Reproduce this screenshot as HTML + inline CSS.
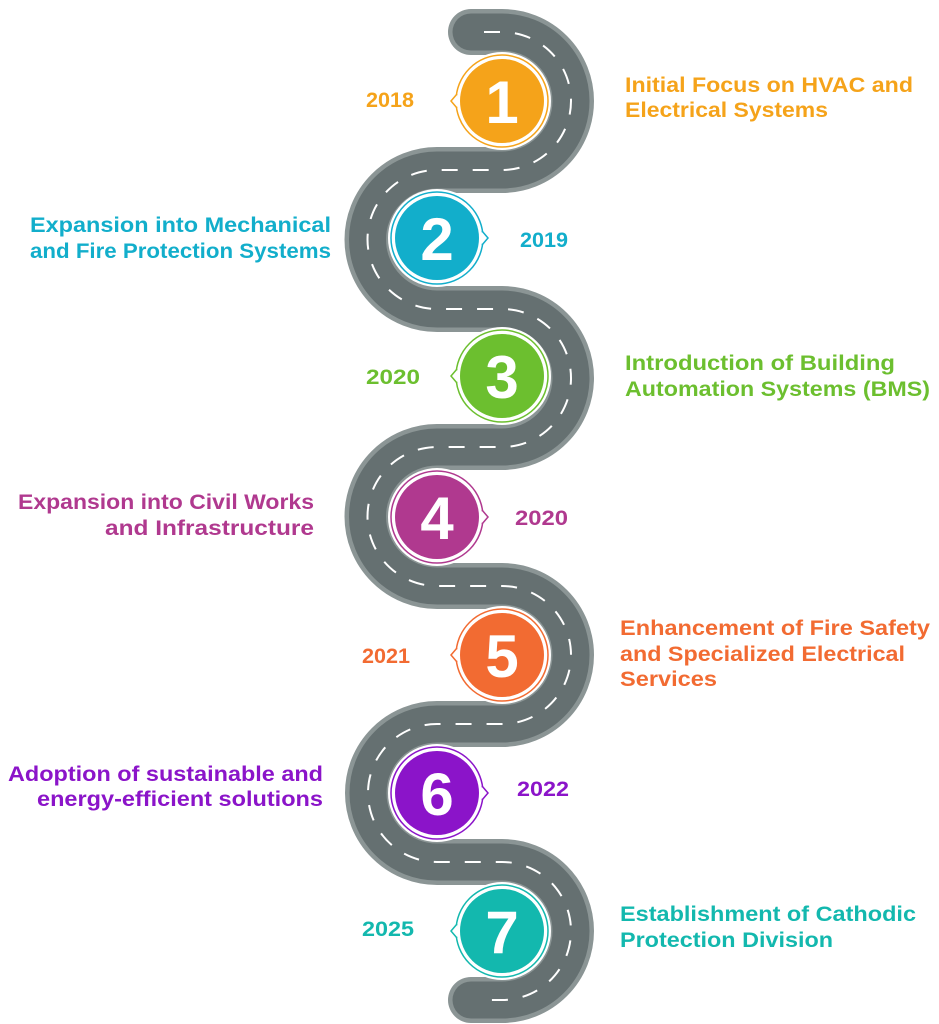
<!DOCTYPE html>
<html><head><meta charset="utf-8"><style>
html,body{margin:0;padding:0;background:#fff;}
svg{display:block;}
text{font-family:"Liberation Sans",sans-serif;font-weight:bold;font-size:21px;}
.num{font-size:60px;fill:#fff;text-anchor:middle;}
</style></head><body>
<svg width="939" height="1024" viewBox="0 0 939 1024">
<g fill="none" stroke-linecap="round">
<path d="M471 32 H502 A69 69 0 0 1 502 170 H437 A69 69 0 0 0 437 309 H502 A69 69 0 0 1 502 447 H437 A69 69 0 0 0 437 586 H502 A69 69 0 0 1 502 724 H437 A69 69 0 0 0 437 862 H502 A69 69 0 0 1 502 1000 H471" stroke="#8b9595" stroke-width="46"/>
<path d="M471 32 H502 A69 69 0 0 1 502 170 H437 A69 69 0 0 0 437 309 H502 A69 69 0 0 1 502 447 H437 A69 69 0 0 0 437 586 H502 A69 69 0 0 1 502 724 H437 A69 69 0 0 0 437 862 H502 A69 69 0 0 1 502 1000 H471" stroke="#657071" stroke-width="37"/>
<path d="M484 32 H502 A69 69 0 0 1 502 170 H437 A69 69 0 0 0 437 309 H502 A69 69 0 0 1 502 447 H437 A69 69 0 0 0 437 586 H502 A69 69 0 0 1 502 724 H437 A69 69 0 0 0 437 862 H502 A69 69 0 0 1 502 1000 H484" stroke="#fff" stroke-width="2" stroke-dasharray="16 15" stroke-linecap="butt"/>
</g>
<g>
<circle cx="502" cy="101" r="49" fill="#fff"/><circle cx="502" cy="101" r="46" fill="#fff" stroke="#f5a31a" stroke-width="1.5"/><path d="M457 94 L451 101 L457 108" fill="#fff" stroke="#f5a31a" stroke-width="1.5"/><circle cx="502" cy="101" r="42" fill="#f5a31a"/><text class="num" x="502" y="123">1</text>
<circle cx="437" cy="238" r="49" fill="#fff"/><circle cx="437" cy="238" r="46" fill="#fff" stroke="#12aecb" stroke-width="1.5"/><path d="M482 231 L488 238 L482 245" fill="#fff" stroke="#12aecb" stroke-width="1.5"/><circle cx="437" cy="238" r="42" fill="#12aecb"/><text class="num" x="437" y="260">2</text>
<circle cx="502" cy="376" r="49" fill="#fff"/><circle cx="502" cy="376" r="46" fill="#fff" stroke="#6cbf2f" stroke-width="1.5"/><path d="M457 369 L451 376 L457 383" fill="#fff" stroke="#6cbf2f" stroke-width="1.5"/><circle cx="502" cy="376" r="42" fill="#6cbf2f"/><text class="num" x="502" y="398">3</text>
<circle cx="437" cy="517" r="49" fill="#fff"/><circle cx="437" cy="517" r="46" fill="#fff" stroke="#b0398f" stroke-width="1.5"/><path d="M482 510 L488 517 L482 524" fill="#fff" stroke="#b0398f" stroke-width="1.5"/><circle cx="437" cy="517" r="42" fill="#b0398f"/><text class="num" x="437" y="539">4</text>
<circle cx="502" cy="655" r="49" fill="#fff"/><circle cx="502" cy="655" r="46" fill="#fff" stroke="#f26b32" stroke-width="1.5"/><path d="M457 648 L451 655 L457 662" fill="#fff" stroke="#f26b32" stroke-width="1.5"/><circle cx="502" cy="655" r="42" fill="#f26b32"/><text class="num" x="502" y="677">5</text>
<circle cx="437" cy="793" r="49" fill="#fff"/><circle cx="437" cy="793" r="46" fill="#fff" stroke="#8b14c9" stroke-width="1.5"/><path d="M482 786 L488 793 L482 800" fill="#fff" stroke="#8b14c9" stroke-width="1.5"/><circle cx="437" cy="793" r="42" fill="#8b14c9"/><text class="num" x="437" y="815">6</text>
<circle cx="502" cy="931" r="49" fill="#fff"/><circle cx="502" cy="931" r="46" fill="#fff" stroke="#13b8ae" stroke-width="1.5"/><path d="M457 924 L451 931 L457 938" fill="#fff" stroke="#13b8ae" stroke-width="1.5"/><circle cx="502" cy="931" r="42" fill="#13b8ae"/><text class="num" x="502" y="953">7</text>
</g>
<g fill="#f5a31a"><text x="366" y="107" textLength="48" lengthAdjust="spacingAndGlyphs">2018</text>
<text x="625" y="92" textLength="288" lengthAdjust="spacingAndGlyphs">Initial Focus on HVAC and</text>
<text x="625" y="117" textLength="203" lengthAdjust="spacingAndGlyphs">Electrical Systems</text></g>
<g fill="#12aecb"><text x="520" y="247" textLength="48" lengthAdjust="spacingAndGlyphs">2019</text>
<text x="30" y="232" textLength="301" lengthAdjust="spacingAndGlyphs">Expansion into Mechanical</text>
<text x="30" y="258" textLength="301" lengthAdjust="spacingAndGlyphs">and Fire Protection Systems</text></g>
<g fill="#6cbf2f"><text x="366" y="384" textLength="54" lengthAdjust="spacingAndGlyphs">2020</text>
<text x="625" y="370" textLength="270" lengthAdjust="spacingAndGlyphs">Introduction of Building</text>
<text x="625" y="396" textLength="305" lengthAdjust="spacingAndGlyphs">Automation Systems (BMS)</text></g>
<g fill="#b0398f"><text x="515" y="525" textLength="53" lengthAdjust="spacingAndGlyphs">2020</text>
<text x="18" y="509" textLength="296" lengthAdjust="spacingAndGlyphs">Expansion into Civil Works</text>
<text x="105" y="535" textLength="209" lengthAdjust="spacingAndGlyphs">and  Infrastructure</text></g>
<g fill="#f26b32"><text x="362" y="663" textLength="48" lengthAdjust="spacingAndGlyphs">2021</text>
<text x="620" y="635" textLength="310" lengthAdjust="spacingAndGlyphs">Enhancement of Fire Safety</text>
<text x="620" y="661" textLength="285" lengthAdjust="spacingAndGlyphs">and Specialized Electrical</text>
<text x="620" y="686" textLength="97" lengthAdjust="spacingAndGlyphs">Services</text></g>
<g fill="#8b14c9"><text x="517" y="796" textLength="52" lengthAdjust="spacingAndGlyphs">2022</text>
<text x="8" y="781" textLength="315" lengthAdjust="spacingAndGlyphs">Adoption of sustainable and</text>
<text x="37" y="806" textLength="286" lengthAdjust="spacingAndGlyphs">energy-efficient solutions</text></g>
<g fill="#13b8ae"><text x="362" y="936" textLength="52" lengthAdjust="spacingAndGlyphs">2025</text>
<text x="620" y="921" textLength="296" lengthAdjust="spacingAndGlyphs">Establishment of Cathodic</text>
<text x="620" y="947" textLength="213" lengthAdjust="spacingAndGlyphs">Protection Division</text></g>
</svg>
</body></html>
